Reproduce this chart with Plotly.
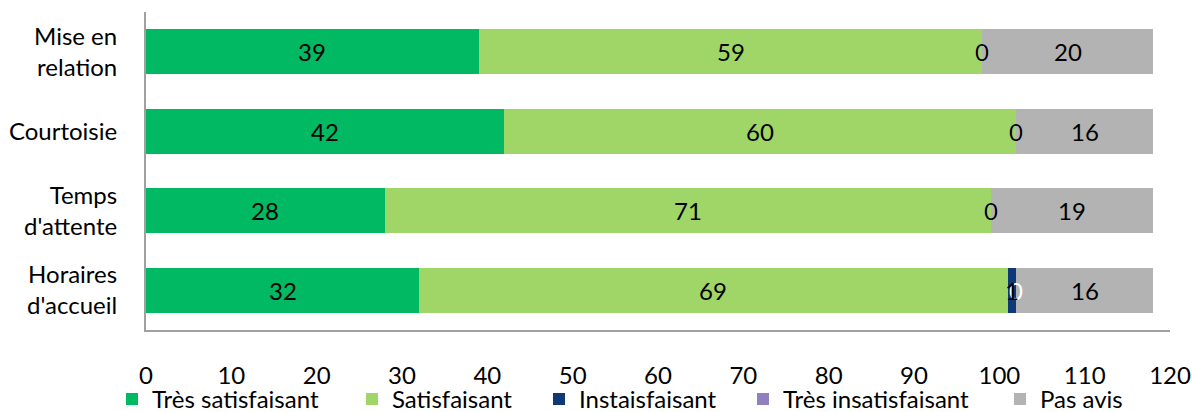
import plotly.graph_objects as go

categories = ["Mise en<br>relation", "Courtoisie", "Temps<br>d'attente", "Horaires<br>d'accueil"]
tres_satisfaisant = [39, 42, 28, 32]
satisfaisant = [59, 60, 71, 69]
insatisfaisant = [0, 0, 0, 1]
tres_insatisfaisant = [0, 0, 0, 0]
pas_avis = [20, 16, 19, 16]

series_names = ["Très satisfaisant", "Satisfaisant", "Instaisfaisant", "Très insatisfaisant", "Pas avis"]
series_values = [tres_satisfaisant, satisfaisant, insatisfaisant, tres_insatisfaisant, pas_avis]
colors = ["#00B962", "#A0D567", "#0F3878", "#9080BD", "#B3B3B3"]
label_colors = ["#000000", "#000000", "#000000", "#FFFFFF", "#000000"]
x_ticks = list(range(0, 121, 10))

FONT = "Lato, Calibri, sans-serif"
FS = 24
fig = go.Figure()

# legend text start positions (px) for each item
legend_text_px = [152, 392, 579, 783, 1040]
plot_left, plot_right = 146, 1170
plot_w = plot_right - plot_left

for i, (name, vals, col) in enumerate(zip(series_names, series_values, colors)):
    lg = "legend" if i == 0 else f"legend{i+1}"
    fig.add_trace(go.Bar(
        y=categories, x=vals, name=name, orientation="h",
        marker=dict(color=col, line=dict(width=0)),
        width=0.566, legend=lg, hoverinfo="x+name",
    ))

annotations = []
cum = [0] * len(categories)
for i, vals in enumerate(series_values):
    for j, v in enumerate(vals):
        annotations.append(dict(
            x=cum[j] + v / 2, y=categories[j], xref="x", yref="y",
            text=str(v), showarrow=False,
            font=dict(family=FONT, size=FS, color=label_colors[i]),
        ))
        cum[j] += v
# draw white labels first so black ones sit on top
annotations.sort(key=lambda a: 0 if a["font"]["color"] == "#FFFFFF" else 1)

layout_legends = {}
for i in range(5):
    key = "legend" if i == 0 else f"legend{i+1}"
    layout_legends[key] = dict(
        x=(legend_text_px[i] - 40 - plot_left) / plot_w, xanchor="left",
        y=-0.218, yanchor="middle", orientation="h",
        font=dict(family=FONT, size=FS, color="#000000"),
        bgcolor="rgba(0,0,0,0)", borderwidth=0,
        itemclick=False, itemdoubleclick=False,
    )

fig.update_layout(
    width=1192, height=412,
    margin=dict(l=146, r=22, t=12, b=82, autoexpand=False),
    barmode="stack",
    plot_bgcolor="white", paper_bgcolor="white",
    showlegend=True,
    annotations=annotations,
    xaxis=dict(
        range=[0, 120], tickvals=x_ticks, ticktext=[str(t) for t in x_ticks],
        showgrid=False, zeroline=False, showline=True, linecolor="#A0A0A0", linewidth=2,
        ticks="", ticklabelstandoff=23, automargin=False,
        tickfont=dict(family=FONT, size=FS, color="#000000"),
        fixedrange=True,
    ),
    yaxis=dict(
        categoryorder="array", categoryarray=categories, autorange="reversed",
        showgrid=False, zeroline=False, showline=True, linecolor="#A0A0A0", linewidth=2,
        ticks="", ticklabelstandoff=22, automargin=False,
        tickfont=dict(family=FONT, size=FS, color="#000000"),
        fixedrange=True,
    ),
    **layout_legends,
)

fig.write_html("out.html")
